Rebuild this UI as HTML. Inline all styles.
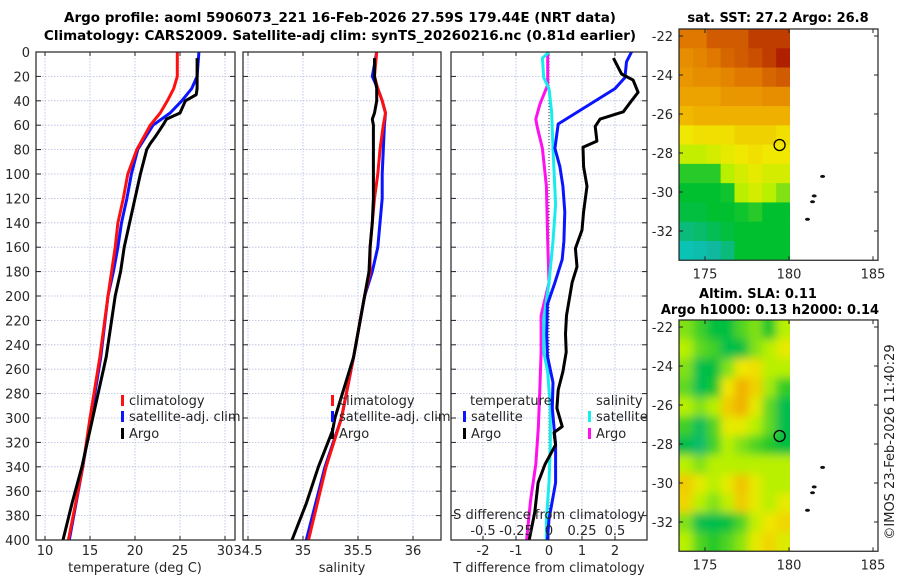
<!DOCTYPE html>
<html><head><meta charset="utf-8"><style>
body{margin:0;background:#fff}
svg{display:block;font-family:"DejaVu Sans","Liberation Sans",sans-serif}
</style></head><body>
<svg id="c" width="900" height="580" viewBox="0 0 900 580">
<text x="340" y="22" text-anchor="middle" font-size="13.5" font-weight="bold">Argo profile: aoml 5906073_221 16-Feb-2026 27.59S 179.44E (NRT data)</text>
<text x="340" y="40" text-anchor="middle" font-size="13.5" font-weight="bold">Climatology: CARS2009. Satellite-adj clim: synTS_20260216.nc (0.81d earlier)</text>
</svg>
<script>
// ---------- data ----------
const tDepth=[0,20,30,40,50,60,80,100,120,140,160,180,200,250,300,340,400];
const tClim=[24.7,24.7,24.3,23.6,22.8,21.7,20.2,19.2,18.7,18.1,17.8,17.4,17.0,16.1,15.0,14.2,12.6];
const tSat=[27.1,26.9,26.3,25.2,23.9,22.0,20.3,19.6,19.1,18.5,18.1,17.6,17.0,16.2,15.1,14.2,12.7];
const argoDepth=[5,20,30,35,40,50,55,60,70,75,80,100,120,140,160,180,200,250,300,310,340,370,400];
const tArgo=[26.9,26.9,26.9,26.8,25.6,25.0,23.5,23.1,22.2,21.7,21.3,20.6,20.0,19.4,18.8,18.4,17.8,16.8,15.3,15.0,14.1,13.0,12.0];
const sClim=[35.67,35.65,35.68,35.72,35.75,35.73,35.70,35.68,35.65,35.63,35.61,35.61,35.56,35.46,35.35,35.21,35.05];
const sSat=[35.67,35.63,35.68,35.72,35.75,35.74,35.73,35.72,35.72,35.70,35.68,35.63,35.56,35.46,35.35,35.20,35.03];
const sArgo=[35.65,35.65,35.67,35.67,35.67,35.65,35.63,35.64,35.64,35.64,35.64,35.64,35.64,35.63,35.61,35.60,35.56,35.46,35.29,35.27,35.14,35.03,34.90];
const dDepth=[0,8,21,30,59,79,94,110,131,155,170,189,207,231,249,271,292,322,353,383,400];
const dTSat=[2.5,2.35,2.3,2.0,0.28,0.18,0.33,0.42,0.48,0.45,0.4,0.18,-0.05,-0.07,-0.05,0.12,0.1,0.2,0.2,0.0,-0.05];
const aDepth=[5,18,23,33,40,49,55,61,73,78,94,110,131,146,161,176,189,216,231,246,262,277,292,307,312,322,338,353,377,400];
const dTArgo=[1.95,2.2,2.55,2.7,2.5,2.25,1.55,1.4,1.45,1.03,1.05,1.15,1.05,1.0,0.8,0.85,0.7,0.53,0.5,0.52,0.42,0.28,0.24,0.4,0.15,0.2,-0.12,-0.33,-0.43,-0.6];
const sdDepth=[0,5,21,30,49,79,125,155,189,219,246,262,292,322,353,383,400];
const dSSat=[0,-0.05,-0.04,0,0.02,0.03,0.05,0.03,0,-0.04,-0.04,-0.01,0.01,0.01,0,-0.02,-0.02];
const smDepth=[0,27,43,55,61,79,110,155,189,216,246,277,307,338,368,400];
const dSArgo=[-0.01,-0.01,-0.07,-0.1,-0.09,-0.05,-0.02,-0.01,0,-0.06,-0.06,-0.07,-0.08,-0.1,-0.14,-0.17];
const depthTicks=[0,20,40,60,80,100,120,140,160,180,200,220,240,260,280,300,320,340,360,380,400];
const tTicks=[10,15,20,25,30];
const sTicks=[34.5,35,35.5,36];
const dtTicks=[-2,-1,0,1,2];
const dsTicks=["-0.5","-0.25","0","0.25","0.5"];
const sstGrid=[
[.85,.85,.9,.9,.9,.95,.95,.95],
[.8,.82,.85,.88,.9,.92,.95,1],
[.78,.8,.8,.82,.85,.85,.88,.9],
[.75,.75,.75,.78,.78,.78,.8,.8],
[.7,.72,.72,.72,.72,.72,.72,.72],
[.6,.62,.62,.62,.65,.65,.65,.62],
[.52,.52,.55,.58,.6,.62,.6,.6],
[.35,.35,.35,.5,.55,.58,.55,.55],
[.3,.3,.3,.32,.5,.55,.5,.45],
[.28,.28,.3,.3,.32,.35,.3,.3],
[.2,.22,.25,.28,.3,.3,.3,.3],
[.1,.12,.15,.2,.3,.3,.3,.3]];
const slaGrid=[
[.45,.38,.28,.28,.4,.45,.32,.5],
[.5,.42,.38,.26,.28,.45,.5,.58],
[.45,.26,.28,.45,.6,.62,.5,.5],
[.42,.25,.32,.6,.72,.65,.48,.36],
[.5,.45,.5,.66,.72,.58,.42,.26],
[.38,.24,.4,.58,.58,.5,.42,.26],
[.26,.22,.38,.5,.45,.4,.34,.28],
[.5,.45,.5,.5,.5,.5,.5,.5],
[.66,.58,.5,.58,.68,.58,.5,.5],
[.64,.5,.45,.52,.66,.58,.5,.58],
[.45,.26,.26,.28,.4,.52,.6,.64],
[.5,.4,.34,.4,.46,.58,.64,.56]];
const latTicks=[-22,-24,-26,-28,-30,-32];
const lonTicks=[175,180,185];
const argoLon=179.44, argoLat=-27.59;
const islandLon=[182.0,181.5,181.4,181.1];
const islandLat=[-29.2,-30.2,-30.5,-31.4];

// ---------- helpers ----------
const NS="http://www.w3.org/2000/svg";
const svg=document.getElementById('c');
function mk(tag,attrs,parent){const e=document.createElementNS(NS,tag);for(const k in attrs)e.setAttribute(k,attrs[k]);(parent||svg).appendChild(e);return e;}
function txt(x,y,s,size,anchor,parent){const e=mk('text',{x:x,y:y,'font-size':size||13,'text-anchor':anchor||'middle',fill:'#262626'},parent);e.textContent=s;return e;}
const TOP=52,BOT=540;
const yD=d=>TOP+d*1.22;
const xT=v=>45+(v-10)*9;
const xS=v=>248+(v-34.5)*110;
const xDT=v=>549+v*33;
const xDS=v=>549+v*132;
const panels=[{l:36,r:235,name:'temperature-panel'},{l:243,r:441,name:'salinity-panel'},{l:451,r:647,name:'difference-panel'}];

function frame(p,xt){
  const g=mk('g',{});
  
  
  depthTicks.forEach(d=>{mk('line',{x1:p.l,x2:p.r,y1:yD(d),y2:yD(d),stroke:'#b4bce0','stroke-width':0.8,'stroke-dasharray':'1.5 1.5'},g);});
  xt.forEach(x=>{mk('line',{x1:x,x2:x,y1:TOP,y2:BOT,stroke:'#b4bce0','stroke-width':0.8,'stroke-dasharray':'1.5 1.5'},g);});
  depthTicks.forEach(d=>{mk('line',{x1:p.l,x2:p.l+5,y1:yD(d),y2:yD(d),stroke:'#222'},g);mk('line',{x1:p.r-5,x2:p.r,y1:yD(d),y2:yD(d),stroke:'#222'},g);});
  xt.forEach(x=>{mk('line',{x1:x,x2:x,y1:BOT-4,y2:BOT,stroke:'#222'},g);mk('line',{x1:x,x2:x,y1:TOP,y2:TOP+4,stroke:'#222'},g);});
  return g;
}
function border(p){mk('rect',{x:p.l,y:TOP,width:p.r-p.l,height:BOT-TOP,fill:'none',stroke:'#222','stroke-width':1.2});}
function line(xs,ds,xf,col,name,w){
  const pts=xs.map((v,i)=>xf(v).toFixed(1)+','+yD(ds[i]).toFixed(1)).join(' ');
  const e=mk('polyline',{points:pts,fill:'none',stroke:col,'stroke-width':w||3,'stroke-linejoin':'round'});
  
  
  return e;
}
function legend(x,y,col,label,name){
  const g=mk('g',{});
  
  
  mk('rect',{x:x,y:y-10,width:3,height:11,fill:col},g);
  txt(x+8,y,label,13,'start',g);
}

// ---------- panel 1 ----------
frame(panels[0],tTicks.map(xT));
line(tSat,tDepth,xT,'#0a14ff','temp-satellite-line');
line(tClim,tDepth,xT,'#ff1010','temp-climatology-line');
line(tArgo,argoDepth,xT,'#000','temp-argo-line');
border(panels[0]);
depthTicks.forEach(d=>{const e=txt(30,yD(d)+5,String(d),13,'end');});
tTicks.forEach(v=>{const e=txt(xT(v),555,String(v),13);});
let e1=txt(135,572,'temperature (deg C)',13);
legend(121,405,'#ff1010','climatology','legend-climatology');
legend(121,421,'#0a14ff','satellite-adj. clim','legend-satellite');
legend(121,438,'#000','Argo','legend-argo');

// ---------- panel 2 ----------
frame(panels[1],sTicks.map(xS));
line(sSat,tDepth,xS,'#0a14ff','sal-satellite-line');
line(sClim,tDepth,xS,'#ff1010','sal-climatology-line');
line(sArgo,argoDepth,xS,'#000','sal-argo-line');
border(panels[1]);
sTicks.forEach(v=>{const e=txt(xS(v),555,String(v),13);});
let e2=txt(342,572,'salinity',13);
legend(331,405,'#ff1010','climatology','legend-sal-climatology');
legend(331,421,'#0a14ff','satellite-adj. clim','legend-sal-satellite');
legend(331,438,'#000','Argo','legend-sal-argo');

// ---------- panel 3 ----------
frame(panels[2],dtTicks.map(xDT));
mk('line',{x1:549,x2:549,y1:TOP,y2:BOT,stroke:'#333','stroke-width':1,'stroke-dasharray':'1 2'});
line(dSArgo,smDepth,xDS,'#ff10f0','sdiff-argo-line');
line(dSSat,sdDepth,xDS,'#18ecec','sdiff-satellite-line');
line(dTSat,dDepth,xDT,'#0a14ff','tdiff-satellite-line');
line(dTArgo,aDepth,xDT,'#000','tdiff-argo-line');
border(panels[2]);
dtTicks.forEach(v=>{const e=txt(xDT(v),555,String(v),13);});
let e3=txt(549,572,'T difference from climatology',13);
let e4=txt(549,519,'S difference from climatology',13);
dsTicks.forEach(v=>{const e=txt(xDS(parseFloat(v)),535,v,13);});
let e5=txt(470,405,'temperature',13,'start');
let e6=txt(596,405,'salinity',13,'start');
legend(463,421,'#0a14ff','satellite','legend-tdiff-satellite');
legend(463,438,'#000','Argo','legend-tdiff-argo');
legend(588,421,'#18ecec','satellite','legend-sdiff-satellite');
legend(588,438,'#ff10f0','Argo','legend-sdiff-argo');

// ---------- maps ----------
const stops=[[0,[0,216,224]],[0.15,[16,184,160]],[0.3,[0,192,48]],[0.42,[96,216,32]],[0.5,[184,240,0]],[0.6,[240,232,0]],[0.72,[240,176,0]],[0.85,[224,120,0]],[1,[176,32,0]]];
function cmap(v){for(let i=1;i<stops.length;i++){if(v<=stops[i][0]){const a=stops[i-1],b=stops[i],t=(v-a[0])/(b[0]-a[0]);return 'rgb('+a[1].map((c,k)=>Math.round(c+(b[1][k]-c)*t)).join(',')+')';}}return 'rgb(176,32,0)';}
const xL=lon=>705+(lon-175)*16.8;
const LON0=173.45,LON1=180.06,LAT0=-21.64,LAT1=-33.5;
function map(y0,name,grid,smooth){
  const yL=lat=>y0+7+(-22-lat)*19.5;
  const top=yL(LAT0),bot=yL(LAT1);
  const g=mk('g',{});
  
  
  const cid=name+'-clip';
  const defs=mk('defs',{},g);
  const cp=mk('clipPath',{id:cid},defs);
  mk('rect',{x:679,y:top,width:xL(LON1)-679,height:bot-top},cp);
  let filt='';
  if(smooth){const f=mk('filter',{id:name+'-blur',x:'-10%',y:'-10%',width:'120%',height:'120%'},defs);mk('feGaussianBlur',{stdDeviation:4.5},f);filt='url(#'+name+'-blur)';}
  const cg=mk('g',{'clip-path':'url(#'+cid+')'},g);
  const inner=mk('g',smooth?{filter:filt}:{},cg);
  const rows=grid.length,cols=grid[0].length;
  const cw=(xL(LON1)-679)/cols,ch=(bot-top)/rows;
  grid.forEach((row,r)=>row.forEach((v,c)=>{
    const cell=mk('rect',{x:679+c*cw-(smooth&&c==0?20:0),y:top+r*ch-(smooth&&r==0?20:0),width:cw+0.6+(smooth&&(c==0||c==cols-1)?20:0),height:ch+0.6+(smooth&&(r==0||r==rows-1)?20:0),fill:cmap(v)},inner);
    
    
  }));
  mk('rect',{x:679,y:top,width:878-679,height:bot-top,fill:'none',stroke:'#222','stroke-width':1.2},g);
  latTicks.forEach(l=>{mk('line',{x1:679,x2:683,y1:yL(l),y2:yL(l),stroke:'#222'},g);mk('line',{x1:874,x2:878,y1:yL(l),y2:yL(l),stroke:'#222'},g);txt(673,yL(l)+5,String(l),13,'end',g);});
  lonTicks.forEach(l=>{mk('line',{x1:xL(l),x2:xL(l),y1:bot-4,y2:bot,stroke:'#222'},g);mk('line',{x1:xL(l),x2:xL(l),y1:top,y2:top+4,stroke:'#222'},g);txt(xL(l),bot+18,String(l),13,'middle',g);});
  islandLon.forEach((lo,i)=>{const d=mk('ellipse',{cx:xL(lo),cy:yL(islandLat[i]),rx:2.5,ry:1.5,fill:'#111'},g);});
  const c=mk('circle',{cx:xL(argoLon),cy:yL(argoLat),r:5.5,fill:'none',stroke:'#000','stroke-width':1.3},g);
  
  
  return g;
}
map(29,'sst-map',sstGrid,false);
map(320,'sla-map',slaGrid,true);
const t1=mk('text',{x:778,y:22,'text-anchor':'middle','font-size':13,'font-weight':'bold'});t1.textContent='sat. SST: 27.2 Argo: 26.8';

const t2=mk('text',{x:758,y:298,'text-anchor':'middle','font-size':13,'font-weight':'bold'});t2.textContent='Altim. SLA: 0.11';

const t3=mk('text',{x:770,y:314,'text-anchor':'middle','font-size':13,'font-weight':'bold'});t3.textContent='Argo h1000: 0.13 h2000: 0.14';

const cr=mk('text',{x:0,y:0,'text-anchor':'middle','font-size':13,fill:'#222',transform:'translate(894,442) rotate(-90)'});cr.textContent='©IMOS 23-Feb-2026 11:40:29';

</script>
</body></html>
